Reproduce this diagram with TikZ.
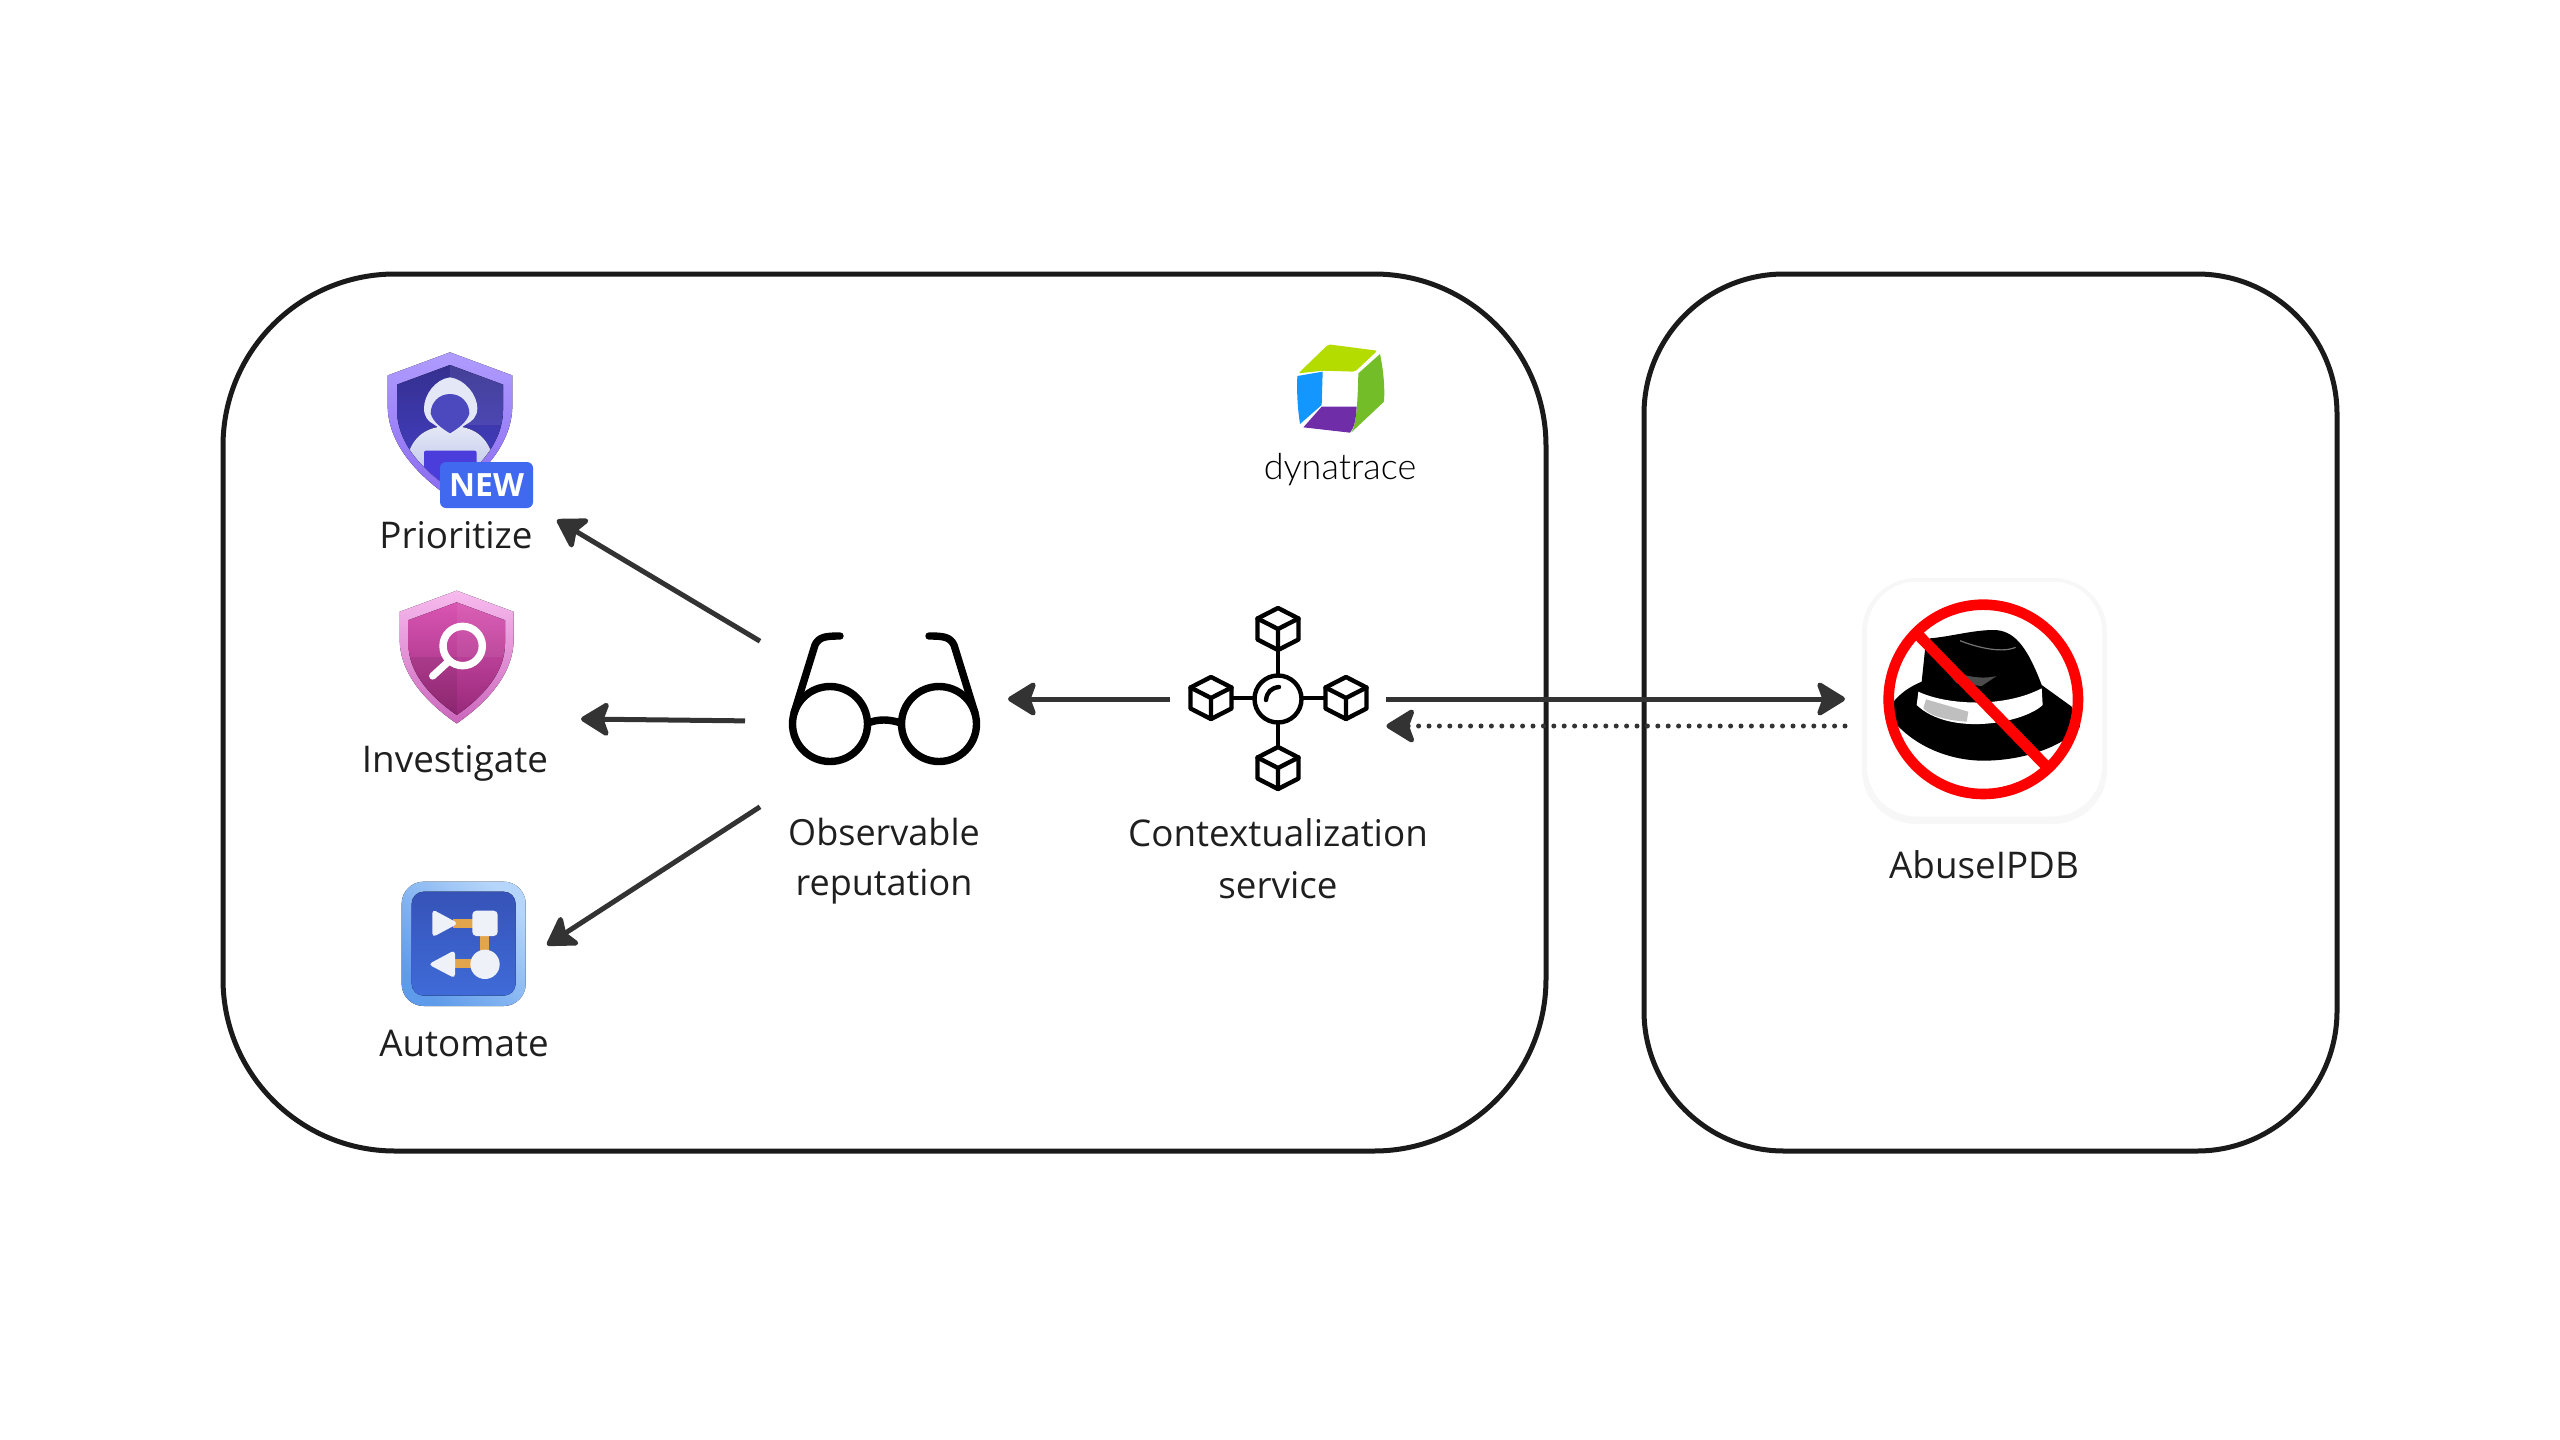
\documentclass[tikz,border=0pt]{standalone}
\usepackage{fontspec}
\setmainfont{Open Sans}
\newfontfamily\dynafont{Lato}[UprightFont=* Light]
\usetikzlibrary{arrows.meta,positioning}
\definecolor{inkline}{HTML}{1A1A1A}
\definecolor{flowline}{HTML}{333333}
\definecolor{labeltext}{HTML}{1F1F1F}
\definecolor{badgeblue}{HTML}{4169F0}
\definecolor{hoodlight}{HTML}{E4E8F6}
\definecolor{hoodshade}{HTML}{B4BAE6}
\definecolor{hoodface}{HTML}{4C49BE}
\definecolor{laptopblue}{HTML}{4A3DDC}
\definecolor{violetrimtop}{HTML}{B09CFF}
\definecolor{violetrimlow}{HTML}{8A6BF2}
\definecolor{violetinktop}{HTML}{35308F}
\definecolor{violetinklow}{HTML}{4541CC}
\definecolor{pinkrimtop}{HTML}{F7BBEE}
\definecolor{pinkrimlow}{HTML}{CC66BC}
\definecolor{pinkinktop}{HTML}{D955B2}
\definecolor{pinkinklow}{HTML}{98297A}
\definecolor{tilerimleft}{HTML}{5E9BEA}
\definecolor{tilerimright}{HTML}{B5D5FA}
\definecolor{tileinktop}{HTML}{3653B8}
\definecolor{tileinklow}{HTML}{3F6BD8}
\definecolor{dashorange}{HTML}{E3A54C}
\definecolor{tilewhite}{HTML}{EEF1F8}
\definecolor{logolime}{HTML}{B4DC00}
\definecolor{logoblue}{HTML}{1496FF}
\definecolor{logogreen}{HTML}{73BE28}
\definecolor{logopurple}{HTML}{6F2DA8}
\newcommand{\shieldshape}{(0,0) -- (1,.37) -- (1,.85) .. controls (1,1.45) and (.55,1.95) .. (0,2.33) .. controls (-.55,1.95) and (-1,1.45) .. (-1,.85) -- (-1,.37) -- cycle}
\tikzset{
  panel/.style={draw=inkline,line width=2.5pt,inner sep=0pt},
  lbl/.style={text=labeltext,font=\fontsize{18.4}{25}\selectfont,align=center,inner sep=0pt},
  iconbox/.style={inner sep=0pt},
  flow/.style={draw=flowline,line width=2.5pt,-{Stealth[length=16pt,width=19.5pt,inset=3.5pt,round]}},
  zoomed/.style={shift={(#1)},x=.16667pt,y=-.16667pt},
  glyph/.style={draw=black,line width=3.7pt,line cap=round,line join=round},
  hubline/.style={draw=black,line width=2.2pt,line cap=round,line join=round},
  cube/.pic={
    \draw[hubline] (0,-21) -- (20.5,-10.5) -- (20.5,10.5) -- (0,21) -- (-20.5,10.5) -- (-20.5,-10.5) -- cycle;
    \draw[hubline] (-20.5,-10.5) -- (0,0) -- (20.5,-10.5) (0,0) -- (0,21);
  }
}
\begin{document}
\begin{tikzpicture}[x=.5pt,y=-.5pt]
\useasboundingbox (0,0) rectangle (2560,1440);
\node[panel,rounded corners=86pt,minimum width=661.5pt,minimum height=438.5pt] (platform) at (884.5,712.5) {};
\node[panel,rounded corners=70pt,minimum width=346.5pt,minimum height=438.5pt] (external) at (1990.5,712.5) {};

\begin{scope}[zoomed={340,320}]
  \fill[shift={(330,97)},scale=187,top color=violetrimtop,bottom color=violetrimlow] \shieldshape;
  \fill[shift={(330,135)},scale=159,top color=violetinktop,bottom color=violetinklow] \shieldshape;
  \begin{scope}
    \clip[shift={(330,135)},scale=159] \shieldshape;
    \fill[white,opacity=.08] (330,135) rectangle (490,315);
    \fill[top color=hoodlight,bottom color=hoodshade] (205,400) .. controls (225,340) and (270,318) .. (330,318) .. controls (390,318) and (435,340) .. (455,400) -- (455,520) -- (205,520) -- cycle;
    \fill[laptopblue,rounded corners=1pt] (252,392) rectangle (410,500);
  \end{scope}
  \fill[hoodlight] (330,172) .. controls (375,178) and (412,225) .. (412,265) .. controls (412,290) and (395,305) .. (380,312) -- (330,345) -- (280,312) .. controls (265,305) and (252,290) .. (252,265) .. controls (252,225) and (285,178) .. (330,172) -- cycle;
  \fill[hoodface] (330,222) .. controls (365,222) and (388,250) .. (388,280) .. controls (382,305) and (355,325) .. (330,340) .. controls (305,325) and (278,305) .. (272,280) .. controls (272,250) and (295,222) .. (330,222) -- cycle;
\end{scope}
\node[iconbox,fill=badgeblue,rounded corners=3pt,minimum width=46.5pt,minimum height=23pt,text=white,font=\fontsize{16}{16}\bfseries\selectfont] (newbadge) at (486.5,485) {NEW};
\node[lbl,anchor=base] (prioritize) at (456,548.5) {Prioritize};

\begin{scope}[zoomed={340,570}]
  \fill[shift={(350,62)},scale=171,top color=pinkrimtop,bottom color=pinkrimlow] \shieldshape;
  \fill[shift={(350,97)},scale=145,top color=pinkinktop,bottom color=pinkinklow] \shieldshape;
  \begin{scope}
    \clip[shift={(350,97)},scale=145] \shieldshape;
    \fill[white,opacity=.06] (350,97) rectangle (500,260);
    \fill[black,opacity=.08] (205,260) rectangle (350,440);
  \end{scope}
  \draw[white,line width=3.7pt] (368,228) circle (59);
  \draw[white,line width=3.6pt,line cap=round] (325,275) -- (278,318);
\end{scope}
\node[lbl,anchor=base] (investigate) at (455,772) {Investigate};

\begin{scope}[zoomed={360,860}]
  \fill[rounded corners=11pt,left color=tilerimleft,right color=tilerimright,shading angle=135] (125,65) rectangle (497,438);
  \fill[rounded corners=6pt,top color=tileinktop,bottom color=tileinklow] (155,95) rectangle (467,407);
  \draw[dashorange,line width=4.5pt] (280,190) -- (350,190) (373,220) -- (373,300) (280,311) -- (350,311);
  \fill[tilewhite,rounded corners=2pt] (217,148) -- (295,190) -- (217,232) -- cycle;
  \fill[tilewhite,rounded corners=2pt] (337,152) rectangle (413,228);
  \fill[tilewhite,rounded corners=2pt] (205,313) -- (285,270) -- (285,355) -- cycle;
  \fill[tilewhite] (375,313) circle (44);
\end{scope}
\node[lbl,anchor=base] (automate) at (464,1056.5) {Automate};

\node[iconbox,outer sep=14pt,minimum width=96pt,minimum height=80pt] (reputation) at (884,699) {};
\draw[glyph] (830,724) circle (37.5) (939,724) circle (37.5);
\draw[glyph] (868,723) .. controls (878,719) and (889,719) .. (901,723);
\draw[glyph] (794,713) -- (815,645) .. controls (819,637) and (825,636) .. (840,636);
\draw[glyph] (975,713) -- (954,645) .. controls (950,637) and (944,636) .. (929,636);
\node[lbl,anchor=base,font=\fontsize{18}{25}\selectfont] (reputationlabel) at (884,895.5) {Observable\\reputation};

\node[iconbox,minimum width=108pt,minimum height=100pt] (hub) at (1278,699) {};
\pic at (1278,629) {cube};
\pic at (1211,698) {cube};
\pic at (1346,698) {cube};
\pic at (1278,768) {cube};
\draw[hubline] (1278,699) circle (23.5);
\draw[hubline] (1278,650) -- (1278,675) (1278,723) -- (1278,747) (1232,698) -- (1254,698) (1302,698) -- (1325,698);
\draw[hubline] (1266,700) .. controls (1267,692) and (1271,688) .. (1279,687);
\node[lbl,anchor=base,font=\fontsize{18.4}{26}\selectfont] (hublabel) at (1278,898) {Contextualization\\service};

\begin{scope}[zoomed={1240,330}]
  \fill[logolime,rounded corners=1pt] (175,130) -- (265,43) -- (412,62) -- (345,125) -- (248,122) -- cycle;
  \fill[logoblue] (172,138) -- (248,125) -- (245,225) -- (180,282) .. controls (172,230) and (170,180) .. (172,138) -- cycle;
  \fill[logogreen] (355,130) -- (420,72) .. controls (430,120) and (435,170) .. (432,215) -- (333,308) .. controls (345,290) and (352,260) .. (355,130) -- cycle;
  \fill[logopurple] (245,230) -- (350,230) .. controls (348,270) and (342,295) .. (330,308) -- (190,292) -- cycle;
\end{scope}
\node[iconbox,anchor=base,font=\dynafont\fontsize{18}{18}\selectfont,text=black] (dynatrace) at (1340,479) {dynatrace};

\fill[black!3,rounded corners=27pt] (1862,578) rectangle (2107,824);
\node[iconbox,fill=white,rounded corners=25pt,minimum width=117.5pt,minimum height=117.5pt,outer sep=11pt] (abuse) at (1984.5,699) {};
\begin{scope}[zoomed={1850,570}]
  \fill[black] (110,425) .. controls (140,370) and (190,345) .. (215,335) -- (225,240) -- (240,205) .. controls (300,200) and (370,180) .. (430,180) .. controls (490,180) and (530,225) .. (575,345) -- (665,410) -- (690,470) .. controls (640,530) and (520,572) .. (400,572) .. controls (290,572) and (170,520) .. (110,425) -- cycle;
  \fill[white] (205,365) .. controls (290,405) and (460,415) .. (575,355) -- (578,405) .. controls (520,460) and (300,500) .. (200,405) -- cycle;
  \fill[black!25] (228,388) -- (355,425) -- (350,455) .. controls (300,452) and (240,440) .. (220,415) -- cycle;
  \fill[black!70] (262,272) .. controls (320,320) and (390,330) .. (440,318) -- (395,348) -- (320,340) -- cycle;
  \draw[black!55,line width=.6pt] (330,212) .. controls (370,228) and (450,252) .. (497,232);
  \draw[red,line width=5.3pt] (400,388) circle (284);
  \draw[red,line width=5.5pt] (205,195) -- (590,590);
\end{scope}
\node[lbl,anchor=base] (abuselabel) at (1984,878) {AbuseIPDB};

\coordinate (prioritizetip) at (557,520);
\coordinate (investigatetip) at (581,719);
\coordinate (automatetip) at (547,945);
\draw[flow] (reputation.155) -- (prioritizetip);
\draw[flow] ([xshift=-7.5pt]reputation.190) -- (investigatetip);
\draw[flow] (reputation.221) -- (automatetip);
\draw[flow] (hub.west) -- (reputation.east);
\draw[flow] (hub.east) -- (abuse.west);
\draw[flow,dash pattern=on 0pt off 5.2pt,line cap=round] ([yshift=-13.5pt]abuse.west) -- ([yshift=-13.5pt]hub.east);
\end{tikzpicture}
\end{document}
